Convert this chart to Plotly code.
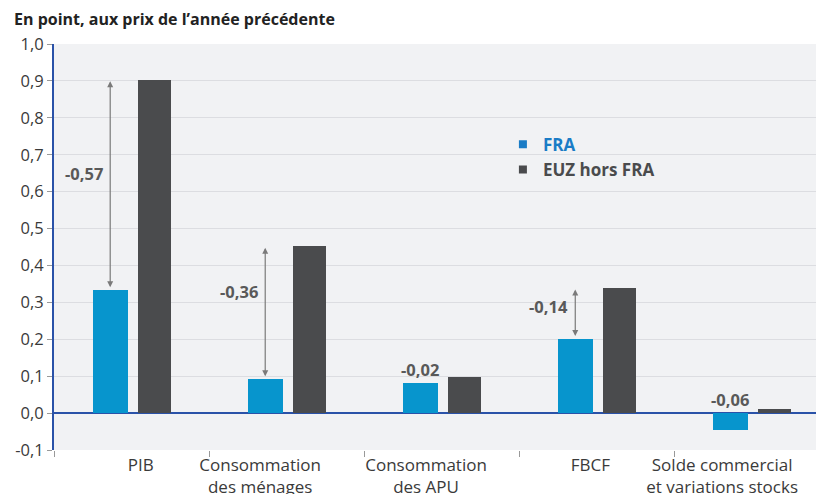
import plotly.graph_objects as go

# --- données ---
categories = ["PIB", "Consommation<br>des ménages", "Consommation<br>des APU", "FBCF",
              "Solde commercial<br>et variations stocks"]
fra = [0.333, 0.092, 0.081, 0.201, -0.047]
euz = [0.903, 0.452, 0.099, 0.339, 0.011]
ecarts = ["-0,57", "-0,36", "-0,02", "-0,14", "-0,06"]
avec_fleche = [True, True, False, True, False]
y_ticks = [-0.1, 0.0, 0.1, 0.2, 0.3, 0.4, 0.5, 0.6, 0.7, 0.8, 0.9, 1.0]
y_labels = ["-0,1", "0,0", "0,1", "0,2", "0,3", "0,4", "0,5", "0,6", "0,7", "0,8", "0,9", "1,0"]

BLEU = "#0795cd"
GRIS = "#4a4b4d"
FONT = "Open Sans"

x = list(range(len(categories)))
# décalage des libellés sous l'axe (comme sur l'original)
label_pos = [0.06, -0.17, -0.10, -0.04, -0.19]
# position verticale des écarts
ecart_y = [0.65, 0.33, 0.08, 0.29, 0.0]

fig = go.Figure()
fig.add_trace(go.Bar(
    x=x, y=fra, width=0.225, offset=-0.25,
    marker=dict(color=BLEU, line=dict(width=0)), showlegend=False,
))
fig.add_trace(go.Bar(
    x=x, y=euz, width=0.215, offset=0.04,
    marker=dict(color=GRIS, line=dict(width=0)), showlegend=False,
))
# légende : petits carrés
fig.add_trace(go.Scatter(
    x=[None], y=[None], mode="markers", marker=dict(symbol="square", size=8, color="#1a7cc6"),
    name="<b><span style='color:#1a7cc6'>FRA</span></b>",
))
fig.add_trace(go.Scatter(
    x=[None], y=[None], mode="markers", marker=dict(symbol="square", size=8, color=GRIS),
    name="<b>EUZ hors FRA</b>",
))

# flèches et écarts
for i in x:
    xa = i - 0.25 + 0.1125
    if avec_fleche[i]:
        fig.add_annotation(
            x=xa, y=fra[i], ax=xa, ay=euz[i], xref="x", yref="y", axref="x", ayref="y",
            showarrow=True, arrowhead=2, arrowside="end+start", arrowsize=1,
            arrowwidth=1.2, arrowcolor="#7a7a7a", standoff=3, startstandoff=0, text="",
        )
        fig.add_annotation(
            x=xa, y=ecart_y[i], xref="x", yref="y", xanchor="right",
            xshift=-5, showarrow=False, text="<b>%s</b>" % ecarts[i],
            font=dict(family=FONT, size=16.5, color="#595959"),
        )
    else:
        fig.add_annotation(
            x=xa, y=max(fra[i], 0), xref="x", yref="y", yanchor="bottom",
            yshift=0, showarrow=False, text="<b>%s</b>" % ecarts[i],
            font=dict(family=FONT, size=16.5, color="#595959"),
        )

fig.update_layout(
    width=816, height=486,
    margin=dict(l=46, r=0, t=36, b=44),
    paper_bgcolor="white", plot_bgcolor="#f1f2f4",
    font=dict(family=FONT, size=16.5, color="#3a3a3a"),
    title=dict(text="<b>En point, aux prix de l’année précédente</b>",
               x=6 / 816, xref="container", xanchor="left",
               y=1 - 11 / 486, yanchor="middle",
               font=dict(family=FONT, size=16, color="#222")),
    showlegend=True,
    legend=dict(x=0.583, y=0.796, xanchor="left", yanchor="top",
                bgcolor="rgba(0,0,0,0)", font=dict(family=FONT, size=17, color=GRIS),
                itemwidth=30),
    bargap=0,
)
fig.update_xaxes(
    range=[-0.5, 4.467], tickvals=[i + d for i, d in zip(x, label_pos)], ticktext=categories,
    ticks="", showgrid=False, zeroline=False, showline=False, ticklabelstandoff=3,
    automargin=False,
    minor=dict(tick0=0.5, dtick=1, ticks="outside", ticklen=6, tickcolor="#999", showgrid=False),
    tickfont=dict(family=FONT, size=17, color="#3a3a3a"),
)
fig.update_yaxes(
    range=[-0.1, 1.0], tickvals=y_ticks, ticktext=y_labels, automargin=False,
    showgrid=True, gridcolor="#dcdde1", gridwidth=1,
    zeroline=True, zerolinecolor="#2a52a8", zerolinewidth=1.6,
    showline=True, linecolor="#2a52a8", linewidth=2,
    ticks="outside", ticklen=5, tickcolor="#999",
    tickfont=dict(family=FONT, size=16.5, color="#3a3a3a"),
)

fig.write_html("out.html")
